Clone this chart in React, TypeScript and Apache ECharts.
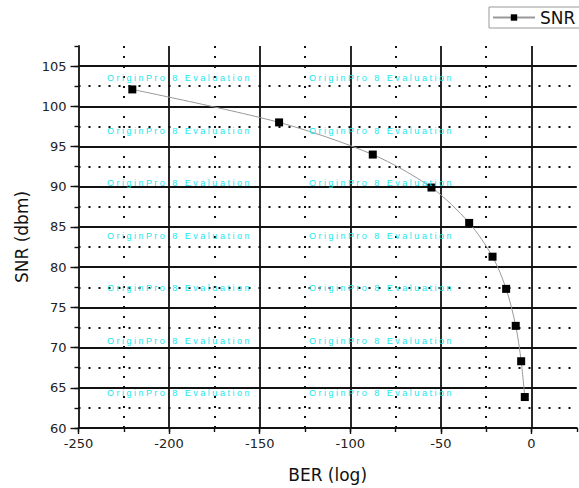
import React, { useEffect, useRef } from 'react';
import * as echarts from 'echarts';

// ---- data ----
const berValues = [-220.3, -139.3, -87.6, -55.2, -34.4, -21.5, -14.0, -8.7, -5.7, -3.7];
const snrValues = [102.1, 98.0, 94.0, 89.9, 85.5, 81.3, 77.3, 72.7, 68.3, 63.85];
const seriesName = 'SNR';
const xAxisTitle = 'BER (log)';
const yAxisTitle = 'SNR (dbm)';
const xMin = -250;
const xMax = 25;
const xStep = 50;
const xMinorStep = 25;
const yMin = 60;
const yMax = 107.5;
const yStep = 5;
const yMinorStep = 2.5;
const xMinorGrid = [-225, -175, -125, -75, -25];
const yMinorGrid = [62.5, 67.5, 72.5, 77.5, 82.5, 87.5, 92.5, 97.5, 102.5];
const watermarkText = 'OriginPro 8 Evaluation';
const watermarkCols = [107, 309];
const watermarkRows = [78, 130.5, 183, 235.5, 288, 340.5, 393];

const FONT = 'DejaVu Sans, Liberation Sans, Arial, sans-serif';

export default function App() {
  const ref = useRef<HTMLDivElement>(null);
  useEffect(() => {
    if (!ref.current) return;
    const chart = echarts.init(ref.current, undefined, { renderer: 'svg' });
    const spaced = watermarkText.split('').join(' ');
    const graphics: any[] = [];
    watermarkRows.forEach((y) =>
      watermarkCols.forEach((x) =>
        graphics.push({
          type: 'text',
          x,
          y,
          z: 100,
          silent: true,
          style: {
            text: spaced,
            fill: '#16e8ee',
            font: `9px Liberation Sans, Arial, sans-serif`,
            textVerticalAlign: 'middle',
          },
        })
      )
    );
    const majorLine = {
      show: true,
      showMinLine: false,
      showMaxLine: false,
      lineStyle: { color: '#111', width: 1.8, type: 'solid' },
    };
    const minorTickAxis = (min: number, max: number, interval: number) => ({
      type: 'value',
      min,
      max,
      interval,
      position: undefined as any,
      axisLine: { show: false, onZero: false },
      axisTick: { show: true, length: 4, lineStyle: { color: '#111', width: 1.4 } },
      axisLabel: { show: false },
      splitLine: { show: false },
    });
    chart.setOption({
      animation: false,
      backgroundColor: '#fff',
      grid: { left: 78.5, top: 46, width: 498.3, height: 383 },
      legend: {
        data: [seriesName],
        left: 489,
        top: 7,
        padding: [2, 6, 2, 3],
        borderColor: '#999',
        borderWidth: 1,
        itemWidth: 42,
        itemHeight: 8,
        textStyle: { fontSize: 17, color: '#111', fontFamily: FONT },
      },
      graphic: graphics,
      xAxis: [
        {
          type: 'value',
          min: xMin,
          max: xMax,
          interval: xStep,
          position: 'bottom',
          name: xAxisTitle,
          nameLocation: 'middle',
          nameGap: 38,
          nameTextStyle: { fontSize: 17, color: '#111', fontFamily: FONT },
          axisLine: { show: true, onZero: false, lineStyle: { color: '#111', width: 1.8 } },
          axisTick: { show: true, length: 6, lineStyle: { color: '#111', width: 1.4 } },
          axisLabel: {
            fontSize: 13,
            color: '#222',
            fontFamily: FONT,
            margin: 9,
            showMaxLabel: false,
          },
          splitLine: majorLine,
        },
        { ...minorTickAxis(xMin, xMax, xMinorStep), position: 'bottom' },
      ],
      yAxis: [
        {
          type: 'value',
          min: yMin,
          max: yMax,
          interval: yStep,
          position: 'left',
          name: yAxisTitle,
          nameLocation: 'middle',
          nameGap: 45,
          nameTextStyle: { fontSize: 17, color: '#111', fontFamily: FONT },
          axisLine: { show: true, onZero: false, lineStyle: { color: '#111', width: 1.8 } },
          axisTick: { show: true, length: 8, lineStyle: { color: '#111', width: 1.4 } },
          axisLabel: {
            fontSize: 13,
            color: '#222',
            fontFamily: FONT,
            margin: 12,
            showMaxLabel: false,
          },
          splitLine: majorLine,
        },
        { ...minorTickAxis(yMin, yMax, yMinorStep), position: 'left' },
      ],
      series: [
        {
          name: 'minorGrid',
          type: 'line',
          data: [[xMin, yMin]],
          symbol: 'none',
          lineStyle: { opacity: 0 },
          z: 1,
          silent: true,
          markLine: {
            silent: true,
            symbol: 'none',
            label: { show: false },
            lineStyle: { type: [2, 8], color: '#111', width: 2 },
            data: [
              ...xMinorGrid.map((v) => ({ xAxis: v })),
              ...yMinorGrid.map((v) => ({ yAxis: v })),
            ],
          },
        },
        {
          name: seriesName,
          type: 'line',
          z: 10,
          smooth: 0.3,
          data: berValues.map((b, i) => [b, snrValues[i]]),
          symbol: 'rect',
          symbolSize: 8,
          itemStyle: { color: '#000' },
          lineStyle: { color: '#999', width: 1 },
        },
      ],
    });
    return () => chart.dispose();
  }, []);
  return (
    <div
      ref={ref}
      style={{ position: 'absolute', left: 0, top: 0, width: 579, height: 488 }}
    />
  );
}
